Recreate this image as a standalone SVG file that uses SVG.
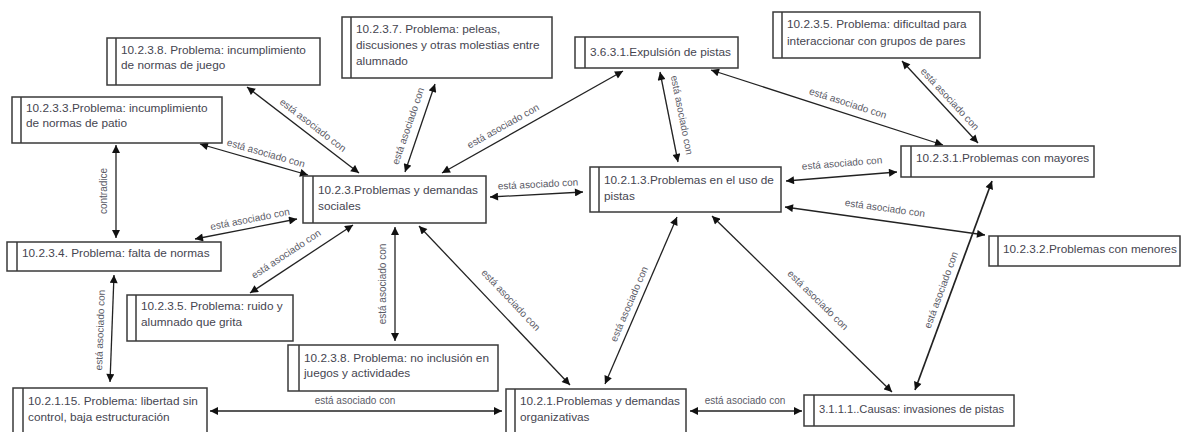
<svg xmlns="http://www.w3.org/2000/svg" width="1183" height="432" viewBox="0 0 1183 432">
<style>
.box{fill:#fff;stroke:#3a3a3a;stroke-width:1.5}
.stripe{stroke:#3a3a3a;stroke-width:1.5}
.nt{font-family:"Liberation Sans",Arial,sans-serif;font-size:11.8px;fill:#454550}
.lbl{font-family:"Liberation Sans",Arial,sans-serif;font-size:10px;fill:#5a5a66;text-anchor:middle}
.edge{stroke:#222;stroke-width:1.3;fill:none;marker-start:url(#ah);marker-end:url(#ah)}
</style>
<defs>
<marker id="ah" viewBox="0 0 10 10" refX="10" refY="5" markerWidth="9" markerHeight="8" markerUnits="userSpaceOnUse" orient="auto-start-reverse">
<path d="M0,0 L10,5 L0,10 z" fill="#111"/>
</marker>
</defs>
<rect width="1183" height="432" fill="#fff"/>
<g id="connectors">
<line class="edge" x1="247" y1="87" x2="359" y2="173"/>
<text class="lbl" transform="translate(313,125) rotate(37.5)" y="3.5">está asociado con</text>
<line class="edge" x1="200" y1="144" x2="308" y2="175"/>
<text class="lbl" transform="translate(266,153) rotate(16)" y="3.5">está asociado con</text>
<line class="edge" x1="435" y1="84" x2="405" y2="172"/>
<text class="lbl" transform="translate(408,126) rotate(-71)" y="3.5">está asociado con</text>
<line class="edge" x1="623" y1="71" x2="442" y2="173"/>
<text class="lbl" transform="translate(503,126) rotate(-29.4)" y="3.5">está asociado con</text>
<line class="edge" x1="660" y1="72" x2="678" y2="162"/>
<text class="lbl" transform="translate(682,115) rotate(78.7)" y="3.5">está asociado con</text>
<line class="edge" x1="711" y1="70" x2="943" y2="145"/>
<text class="lbl" transform="translate(848,103) rotate(17.9)" y="3.5">está asociado con</text>
<line class="edge" x1="902" y1="61" x2="978" y2="143"/>
<text class="lbl" transform="translate(950,99) rotate(47.2)" y="3.5">está asociado con</text>
<line class="edge" x1="786" y1="181" x2="897" y2="172"/>
<text class="lbl" transform="translate(842,163) rotate(-4.6)" y="3.5">está asociado con</text>
<line class="edge" x1="785" y1="207" x2="985" y2="235"/>
<text class="lbl" transform="translate(885,208) rotate(8)" y="3.5">está asociado con</text>
<line class="edge" x1="490" y1="197" x2="583" y2="192"/>
<text class="lbl" transform="translate(538,184) rotate(-3)" y="3.5">está asociado con</text>
<line class="edge" x1="116" y1="145" x2="116" y2="238"/>
<text class="lbl" transform="translate(103,191) rotate(-90)" y="3.5">contradice</text>
<line class="edge" x1="195" y1="239" x2="297" y2="219"/>
<text class="lbl" transform="translate(250,219) rotate(-11)" y="3.5">está asociado con</text>
<line class="edge" x1="250" y1="293" x2="353" y2="225"/>
<text class="lbl" transform="translate(286,254) rotate(-33.4)" y="3.5">está asociado con</text>
<line class="edge" x1="395" y1="227" x2="395" y2="341"/>
<text class="lbl" transform="translate(382,284) rotate(-90)" y="3.5">está asociado con</text>
<line class="edge" x1="419" y1="226" x2="570" y2="385"/>
<text class="lbl" transform="translate(511,300) rotate(46.5)" y="3.5">está asociado con</text>
<line class="edge" x1="114" y1="275" x2="110" y2="382"/>
<text class="lbl" transform="translate(100,330) rotate(-88)" y="3.5">está asociado con</text>
<line class="edge" x1="210" y1="411" x2="502" y2="411"/>
<text class="lbl" transform="translate(355,400)" y="3.5">está asociado con</text>
<line class="edge" x1="677" y1="217" x2="605" y2="384"/>
<text class="lbl" transform="translate(629,304) rotate(-66.7)" y="3.5">está asociado con</text>
<line class="edge" x1="712" y1="216" x2="892" y2="392"/>
<text class="lbl" transform="translate(818,300) rotate(44.4)" y="3.5">está asociado con</text>
<line class="edge" x1="992" y1="181" x2="915" y2="390" style="stroke-width:1.7"/>
<text class="lbl" transform="translate(941,290) rotate(-69.8)" y="3.5">está asociado con</text>
<line class="edge" x1="690" y1="411" x2="802" y2="411"/>
<text class="lbl" transform="translate(745,400)" y="3.5">está asociado con</text>
</g>
<g id="nA"><rect class="box" x="107" y="38" width="213" height="47"/><line class="stripe" x1="116" y1="38" x2="116" y2="85"/><text class="nt" x="121" y="54">10.2.3.8. Problema: incumplimiento</text><text class="nt" x="121" y="69">de normas de juego</text></g>
<g id="nB"><rect class="box" x="12" y="97" width="210" height="46"/><line class="stripe" x1="21" y1="97" x2="21" y2="143"/><text class="nt" x="26" y="112">10.2.3.3.Problema: incumplimiento</text><text class="nt" x="26" y="127">de normas de patio</text></g>
<g id="nC"><rect class="box" x="342" y="17" width="210" height="61"/><line class="stripe" x1="351" y1="17" x2="351" y2="78"/><text class="nt" x="356" y="33">10.2.3.7. Problema: peleas,</text><text class="nt" x="356" y="49">discusiones y otras molestias entre</text><text class="nt" x="356" y="65">alumnado</text></g>
<g id="nD"><rect class="box" x="575" y="37" width="163" height="31"/><line class="stripe" x1="585" y1="37" x2="585" y2="68"/><text class="nt" x="590" y="56">3.6.3.1.Expulsión de pistas</text></g>
<g id="nE"><rect class="box" x="773" y="12" width="207" height="46"/><line class="stripe" x1="782" y1="12" x2="782" y2="58"/><text class="nt" x="787" y="28">10.2.3.5. Problema: dificultad para</text><text class="nt" x="787" y="45">interaccionar con grupos de pares</text></g>
<g id="nF"><rect class="box" x="901" y="146" width="193" height="31"/><line class="stripe" x1="911" y1="146" x2="911" y2="177"/><text class="nt" x="916" y="162">10.2.3.1.Problemas con mayores</text></g>
<g id="nG"><rect class="box" x="590" y="167" width="191" height="45"/><line class="stripe" x1="599" y1="167" x2="599" y2="212"/><text class="nt" x="604" y="184">10.2.1.3.Problemas en el uso de</text><text class="nt" x="604" y="200">pistas</text></g>
<g id="nH"><rect class="box" x="303" y="176" width="183" height="47"/><line class="stripe" x1="313" y1="176" x2="313" y2="223"/><text class="nt" x="318" y="194">10.2.3.Problemas y demandas</text><text class="nt" x="318" y="210">sociales</text></g>
<g id="nI"><rect class="box" x="7" y="242" width="214" height="29"/><line class="stripe" x1="17" y1="242" x2="17" y2="271"/><text class="nt" x="22" y="257">10.2.3.4. Problema: falta de normas</text></g>
<g id="nJ"><rect class="box" x="989" y="236" width="191" height="30"/><line class="stripe" x1="998" y1="236" x2="998" y2="266"/><text class="nt" x="1003" y="253">10.2.3.2.Problemas con menores</text></g>
<g id="nK"><rect class="box" x="127" y="295" width="166" height="46"/><line class="stripe" x1="136" y1="295" x2="136" y2="341"/><text class="nt" x="141" y="310">10.2.3.5. Problema: ruido y</text><text class="nt" x="141" y="326">alumnado que grita</text></g>
<g id="nL"><rect class="box" x="288" y="345" width="210" height="46"/><line class="stripe" x1="299" y1="345" x2="299" y2="391"/><text class="nt" x="304" y="362">10.2.3.8. Problema: no inclusión en</text><text class="nt" x="304" y="377">juegos y actividades</text></g>
<g id="nM"><rect class="box" x="13" y="388" width="194" height="52"/><line class="stripe" x1="23" y1="388" x2="23" y2="440"/><text class="nt" x="28" y="405">10.2.1.15. Problema: libertad sin</text><text class="nt" x="28" y="421">control, baja estructuración</text></g>
<g id="nN"><rect class="box" x="506" y="389" width="180" height="52"/><line class="stripe" x1="515" y1="389" x2="515" y2="441"/><text class="nt" x="520" y="405">10.2.1.Problemas y demandas</text><text class="nt" x="520" y="421">organizativas</text></g>
<g id="nO"><rect class="box" x="804" y="395" width="210" height="31"/><line class="stripe" x1="814" y1="395" x2="814" y2="426"/><text class="nt" x="819" y="413" textLength="185" lengthAdjust="spacingAndGlyphs">3.1.1.1..Causas: invasiones de pistas</text></g>
</svg>
